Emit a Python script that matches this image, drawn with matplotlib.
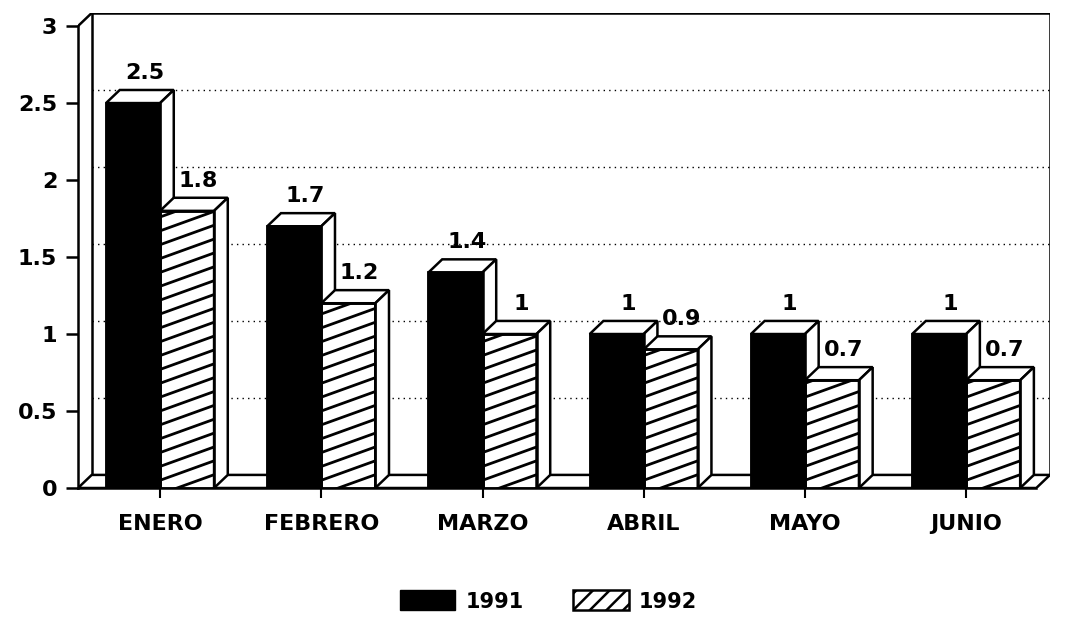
import numpy as np
import matplotlib
matplotlib.use("Agg")
import matplotlib.pyplot as plt
from matplotlib.patches import Polygon, Rectangle, Patch

meses = ["ENERO", "FEBRERO", "MARZO", "ABRIL", "MAYO", "JUNIO"]
v1991 = [2.5, 1.7, 1.4, 1, 1, 1]
v1992 = [1.8, 1.2, 1, 0.9, 0.7, 0.7]
etiq1991 = ["2.5", "1.7", "1.4", "1", "1", "1"]
etiq1992 = ["1.8", "1.2", "1", "0.9", "0.7", "0.7"]
yticks = [0, 0.5, 1, 1.5, 2, 2.5, 3]
yticklabels = ["0", "0.5", "1", "1.5", "2", "2.5", "3"]

plt.rcParams['font.family'] = ['DejaVu Sans']
plt.rcParams['font.weight'] = 'bold'
plt.rcParams['hatch.linewidth'] = 1.8

fig = plt.figure(figsize=(10.65, 6.21), dpi=100)
ax = fig.add_axes([78 / 1065, 133 / 621, 972 / 1065, 475 / 621])

# profundidad del efecto 3D (en unidades de datos)
dx = 0.085
dy = 0.085
w = 0.335
xmin, xmax = -0.509, 5.52
ymax = 3 + dy
ax.set_xlim(xmin, xmax)
ax.set_ylim(0, ymax)
lw = 1.8

# pared del fondo
ax.plot([xmin + dx, xmin + dx, xmax, xmax], [dy, ymax, ymax, dy], color="black", lw=lw, zorder=1)
# eje frontal y diagonal superior
ax.plot([xmin, xmin + dx], [3, ymax], color="black", lw=lw, zorder=1)
# piso
piso = Polygon([(xmin, 0), (xmax - dx, 0), (xmax, dy), (xmin + dx, dy)], closed=True,
               facecolor="white", edgecolor="black", lw=lw, zorder=1)
ax.add_patch(piso)
# lineas de cuadricula punteadas en la pared del fondo
for t in yticks[1:-1]:
    ax.plot([xmin + dx, xmax], [t + dy, t + dy], color="black", lw=1.0,
            linestyle=(0, (1, 3)), zorder=1)

x = np.arange(len(meses))


def barra3d(x0, h, hatched):
    x1 = x0 + w
    frente = Rectangle((x0, 0), w, h, facecolor="white" if hatched else "black",
                       edgecolor="black", lw=1.8, zorder=3)
    ax.add_patch(frente)
    if hatched:
        slope = 0.36 * (161.2 / 153.7)
        sp = 0.09
        xs = np.array([x0, x1])
        for k in np.arange(-0.4, h + 0.1, sp):
            ln, = ax.plot(xs, k + slope * (xs - x0), color="black", lw=2.0, zorder=3.5)
            ln.set_clip_path(frente)
    arriba = Polygon([(x0, h), (x0 + dx, h + dy), (x1 + dx, h + dy), (x1, h)], closed=True,
                     facecolor="white", edgecolor="black", lw=1.8, zorder=3)
    lado = Polygon([(x1, 0), (x1 + dx, dy), (x1 + dx, h + dy), (x1, h)], closed=True,
                   facecolor="white", edgecolor="black", lw=1.8, zorder=3)
    ax.add_patch(arriba)
    ax.add_patch(lado)
    ax.add_patch(Rectangle((x0, 0), w, h, facecolor="none", edgecolor="black", lw=1.8, zorder=4))


for i in range(len(meses)):
    barra3d(x[i] - w, v1991[i], False)
    barra3d(x[i], v1992[i], True)
    ax.text(x[i] - w / 2 + 0.07, v1991[i] + dy + 0.11, etiq1991[i], ha="center", va="center",
            fontsize=16, fontweight="bold", zorder=5)
    ax.text(x[i] + w / 2 + 0.07, v1992[i] + dy + 0.11, etiq1992[i], ha="center", va="center",
            fontsize=16, fontweight="bold", zorder=5)

for s in ["top", "right"]:
    ax.spines[s].set_visible(False)
ax.spines["left"].set_bounds(0, 3)
ax.spines["bottom"].set_bounds(xmin, xmax - dx)
ax.spines["left"].set_linewidth(lw)
ax.spines["bottom"].set_linewidth(lw)
ax.set_yticks(yticks)
ax.set_yticklabels(yticklabels, fontsize=16, fontweight="bold")
ax.set_xticks(x)
ax.set_xticklabels(meses, fontsize=16, fontweight="bold")
ax.tick_params(axis="y", length=9, width=lw, pad=6)
ax.tick_params(axis="x", length=7, width=1.5, pad=12)
ax.set_facecolor("white")
ax.patch.set_visible(False)

handles = [Patch(facecolor="black", edgecolor="black"),
           Patch(facecolor="white", edgecolor="black", hatch="//", lw=1.8)]
fig.legend(handles, ["1991", "1992"], loc="lower center", bbox_to_anchor=(0.515, -0.015),
           ncol=2, frameon=False, prop={"size": 15, "weight": "bold"},
           handlelength=2.65, handleheight=1.1, columnspacing=2.4, handletextpad=0.5)

fig.savefig("out.png", dpi=100, facecolor="white")
